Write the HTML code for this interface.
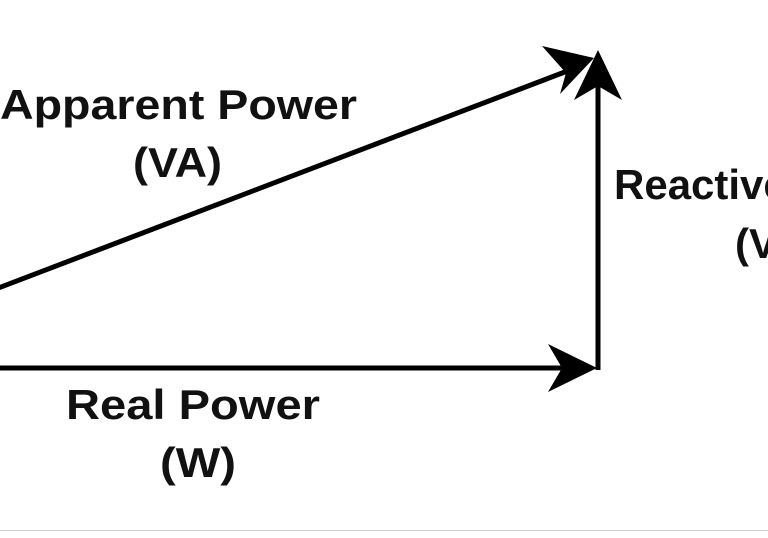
<!DOCTYPE html>
<html><head><meta charset="utf-8"><style>
html,body{margin:0;padding:0;background:#fff;}
svg{display:block;}
text{font-family:"Liberation Sans",Arial,sans-serif;font-weight:bold;fill:#111;font-size:42px;}
</style></head><body>
<svg width="768" height="538" viewBox="0 0 768 538" xmlns="http://www.w3.org/2000/svg">
<rect width="768" height="538" fill="#fff"/>
<line x1="0" y1="368" x2="568" y2="368" stroke="#000" stroke-width="5"/>
<polygon points="597,368 548,344 562,368 548,392" fill="#000"/>
<line x1="598" y1="370" x2="598" y2="80" stroke="#000" stroke-width="5"/>
<polygon points="598,50 574,100 598,86 622,100" fill="#000"/>
<line x1="-20" y1="295" x2="570" y2="70" stroke="#000" stroke-width="5"/>
<polygon points="594,58 542,46 566,73 560,94" fill="#000"/>
<text x="0" y="119" textLength="357" lengthAdjust="spacingAndGlyphs">Apparent Power</text>
<text x="133" y="177" textLength="89" lengthAdjust="spacingAndGlyphs">(VA)</text>
<text x="66" y="419" textLength="254" lengthAdjust="spacingAndGlyphs">Real Power</text>
<text x="160" y="477" textLength="76" lengthAdjust="spacingAndGlyphs">(W)</text>
<text x="614" y="199">Reactive Power</text>
<text x="735" y="258">(VAR)</text>
<line x1="0" y1="530.5" x2="768" y2="530.5" stroke="#ccc" stroke-width="1"/>
</svg>
</body></html>
